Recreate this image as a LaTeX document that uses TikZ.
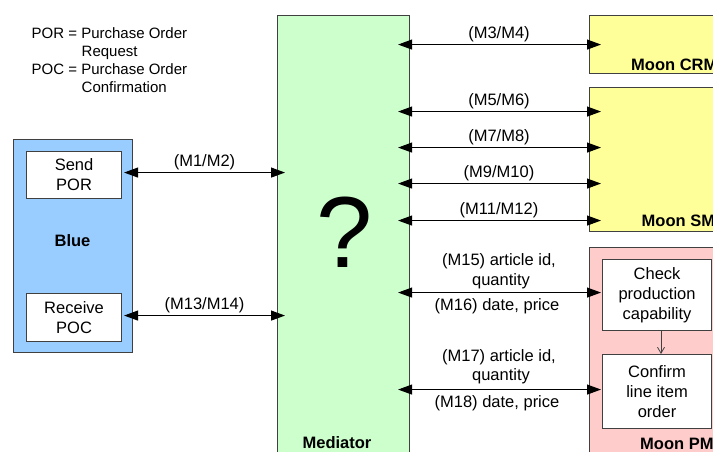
\documentclass[tikz,border=0pt]{standalone}
\usepackage{fontspec}
\setmainfont{Liberation Sans}
\usetikzlibrary{arrows.meta}
\definecolor{bluefill}{HTML}{99CCFF}
\definecolor{greenfill}{HTML}{CCFFCC}
\definecolor{yellowfill}{HTML}{FFFF99}
\definecolor{pinkfill}{HTML}{FFCCCC}
\definecolor{edgecol}{HTML}{404040}
\begin{document}
\begin{tikzpicture}[x=1pt,y=-1pt,
  box/.style={draw=edgecol, line width=1.1pt, inner sep=0pt, anchor=north west},
  txtbox/.style={box, fill=white, align=center, font=\fontsize{16.5}{20}\selectfont},
  lbl/.style={inner sep=0pt, anchor=base, font=\fontsize{16.5}{20}\selectfont},
  boldlbl/.style={inner sep=0pt, font=\fontsize{16.5}{20}\selectfont\bfseries},
  msg/.style={{Triangle[length=14pt,width=10pt]}-{Triangle[length=14pt,width=10pt]}, line width=1.1pt},
  leg/.style={inner sep=0pt, anchor=base west, font=\fontsize{15}{18}\selectfont}]
\useasboundingbox (0,0) rectangle (713,451);
\clip (0,0) rectangle (713,451);

% legend
\node[leg] (leg1) at (31.5,38) {POR = Purchase Order};
\node[leg] (leg2) at (81.5,56) {Request};
\node[leg] (leg3) at (31.5,74) {POC = Purchase Order};
\node[leg] (leg4) at (81.5,92) {Confirmation};

% Blue
\node[box, fill=bluefill, minimum width=119pt, minimum height=213pt] (blue) at (13,139) {};
\node[txtbox, minimum width=95pt, minimum height=47pt] (sendpor) at (26,151) {Send\\POR};
\node[txtbox, minimum width=95pt, minimum height=48pt] (recpoc) at (26,293) {Receive\\POC};
\node[boldlbl, anchor=base] (bluelbl) at (72.5,246) {Blue};

% Mediator
\node[box, fill=greenfill, minimum width=132pt, minimum height=500pt] (mediator) at (277,15) {};
\node[inner sep=0pt, font=\fontsize{101}{101}\selectfont] (qm) at (345,232) {?};
\node[boldlbl, anchor=base] (medlbl) at (337,448) {Mediator};

% Moon systems
\node[box, fill=yellowfill, minimum width=200pt, minimum height=58pt] (crm) at (589,15) {};
\node[boldlbl, anchor=base west] (crmlbl) at (631,70) {Moon CRM};
\node[box, fill=yellowfill, minimum width=200pt, minimum height=144pt] (sm) at (589,87) {};
\node[boldlbl, anchor=base west] (smlbl) at (641.5,226.5) {Moon SM};
\node[box, fill=pinkfill, minimum width=200pt, minimum height=250pt] (pm) at (589,247) {};
\node[boldlbl, anchor=base west] (pmlbl) at (640,449) {Moon PM};
\node[txtbox, minimum width=109pt, minimum height=71pt] (check) at (602,259) {Check\\production\\capability};
\node[txtbox, minimum width=109pt, minimum height=74pt] (confirm) at (602,354) {Confirm\\line item\\order};
\draw[draw=edgecol, line width=0.8pt, -{Straight Barb[length=6pt,width=7pt]}] (check.south -| 661,0) -- (confirm.north -| 661,0);

% left messages
\draw[msg] ([xshift=2pt,yshift=2.5pt]sendpor.east) -- ([xshift=8pt,yshift=2.5pt]sendpor.east -| mediator.west);
\node[lbl] (l12) at (204.5,166) {(M1/M2)};
\draw[msg] ([xshift=2pt,yshift=2pt]recpoc.east) -- ([xshift=8pt,yshift=2pt]recpoc.east -| mediator.west);
\node[lbl] (l1314) at (204.5,309) {(M13/M14)};

% right messages
\draw[msg] ([xshift=-12pt]mediator.east |- crm.west) -- ([xshift=12pt]crm.west);
\node[lbl] (l34) at (499,38.5) {(M3/M4)};
\draw[msg] ([xshift=-12pt,yshift=48pt]mediator.east |- sm.west) -- ([xshift=12pt,yshift=48pt]sm.west);
\node[lbl] (l56) at (499,105.5) {(M5/M6)};
\draw[msg] ([xshift=-12pt,yshift=12pt]mediator.east |- sm.west) -- ([xshift=12pt,yshift=12pt]sm.west);
\node[lbl] (l78) at (499,141.5) {(M7/M8)};
\draw[msg] ([xshift=-12pt,yshift=-24pt]mediator.east |- sm.west) -- ([xshift=12pt,yshift=-24pt]sm.west);
\node[lbl] (l910) at (499,177.5) {(M9/M10)};
\draw[msg] ([xshift=-12pt,yshift=-61pt]mediator.east |- sm.west) -- ([xshift=12pt,yshift=-61pt]sm.west);
\node[lbl] (l1112) at (499,214.5) {(M11/M12)};

\draw[msg] ([xshift=-12pt,yshift=2.5pt]mediator.east |- check.west) -- ([xshift=-1pt,yshift=2.5pt]check.west);
\node[lbl] (l15a) at (499,265.5) {(M15) article id,};
\node[lbl] (l15b) at (501,285) {quantity};
\node[lbl] (l16) at (497,310) {(M16) date, price};
\draw[msg] ([xshift=-12pt,yshift=2pt]mediator.east |- confirm.west) -- ([xshift=-1pt,yshift=2pt]confirm.west);
\node[lbl] (l17a) at (499,361) {(M17) article id,};
\node[lbl] (l17b) at (501,380.5) {quantity};
\node[lbl] (l18) at (497,407) {(M18) date, price};
\end{tikzpicture}
\end{document}
